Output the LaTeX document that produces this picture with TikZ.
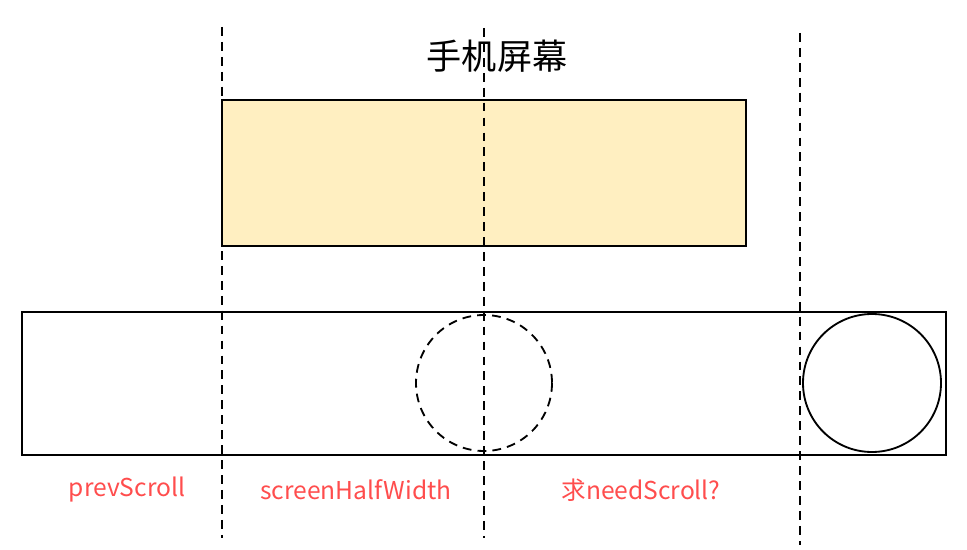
\documentclass[tikz,border=0pt]{standalone}
\usepackage{fontspec}
\newfontfamily\cjk{Noto Sans CJK SC}
\usetikzlibrary{positioning}
\definecolor{screenfill}{HTML}{FFEFC1}
\definecolor{labelred}{HTML}{FF4D4D}
\tikzset{
  guide/.style={black,line width=1.05pt,dashed,dash pattern=on 5pt off 3.5pt},
  frame/.style={draw=black,line width=1.05pt},
  lbl/.style={font=\cjk\fontsize{14}{16}\selectfont,text=labelred}
}
\begin{document}
\begin{tikzpicture}[x=0.02cm,y=-0.02cm]
\useasboundingbox (0,0) rectangle (967,550);
\draw[frame,fill=screenfill] (222,100) rectangle (746,246);
\draw[frame] (22,312) rectangle (946,455);
\draw[guide] (484,383) circle (68);
\draw[frame] (872,383) circle (69);
\draw[guide] (222,27) -- (222,538);
\draw[guide] (484,28) -- (484,538);
\draw[guide] (800,33) -- (800,545);
\node[font=\cjk\fontsize{20}{22}\selectfont] (title) at (497,56) {手机屏幕};
\node[lbl] (prev) at (127,490) {prevScroll};
\node[lbl] (half) at (356,490) {screenHalfWidth};
\node[lbl] (need) at (641,490) {求needScroll?};
\end{tikzpicture}
\end{document}
